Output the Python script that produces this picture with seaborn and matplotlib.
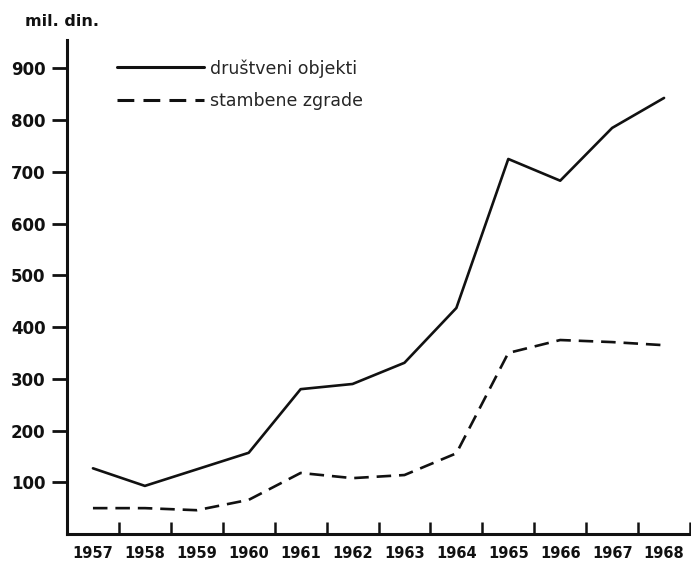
import matplotlib
matplotlib.use("Agg")
import matplotlib.pyplot as plt
import seaborn as sns
import pandas as pd
import numpy as np

years = [1957, 1958, 1959, 1960, 1961, 1962, 1963, 1964, 1965, 1966, 1967, 1968]
drustveni = [127, 93, 125, 157, 280, 290, 331, 437, 725, 683, 785, 843]
stambene = [50, 50, 46, 66, 118, 108, 114, 156, 350, 375, 371, 365]
series_names = ["društveni objekti", "stambene zgrade"]
y_ticks = [100, 200, 300, 400, 500, 600, 700, 800, 900]

df = pd.DataFrame({
    "year": years * 2,
    "value": drustveni + stambene,
    "series": [series_names[0]] * len(years) + [series_names[1]] * len(years),
})

sns.set_style("white")
plt.rcParams["font.family"] = ["DejaVu Sans"]

fig = plt.figure(figsize=(6.91, 5.63), dpi=100)
ax = fig.add_axes([67 / 691, 29 / 563, 623 / 691, 494 / 563])

sns.lineplot(data=df, x="year", y="value", style="series", hue="series",
             palette=["#111111", "#111111"], dashes={series_names[0]: "", series_names[1]: (5.5, 3.0)},
             linewidth=1.9, ax=ax, legend=True)

ax.set_xlim(1956.5, 1968.5)
ax.set_ylim(0, 955)
ax.set_xlabel("")
ax.set_ylabel("")

for s in ["top", "right"]:
    ax.spines[s].set_visible(False)
for s in ["left", "bottom"]:
    ax.spines[s].set_linewidth(2.2)
    ax.spines[s].set_color("#111111")

ax.set_yticks(y_ticks)
ax.set_yticklabels([str(v) for v in y_ticks], fontsize=12, fontweight="semibold", color="#111111")
ax.tick_params(axis="y", which="major", direction="out", length=10.5, width=2, color="#111111", pad=5, left=True)

ax.set_xticks(years)
ax.set_xticklabels([str(y) for y in years], fontsize=10.5, fontweight="semibold", color="#111111")
ax.set_xticks([y + 0.5 for y in years], minor=True)
ax.tick_params(axis="x", which="major", length=0, pad=9, bottom=True)
ax.tick_params(axis="x", which="minor", direction="in", length=9, width=1.8, color="#111111", bottom=True)

handles, labels = ax.get_legend_handles_labels()
leg = ax.legend(handles, labels, loc="upper left", bbox_to_anchor=(117 / 691, 1 - 59 / 563),
                bbox_transform=fig.transFigure, frameon=False, handlelength=5.0,
                handletextpad=0.35, labelspacing=0.85, borderpad=0, borderaxespad=0,
                prop={"size": 12.5})
for line in leg.get_lines():
    line.set_linewidth(2.2)

fig.text(25 / 691, 1 - 22 / 563, "mil. din.", fontsize=11.5, fontweight="bold", color="#111111",
         va="center", ha="left")

fig.savefig("out.png", dpi=100, facecolor="white")
